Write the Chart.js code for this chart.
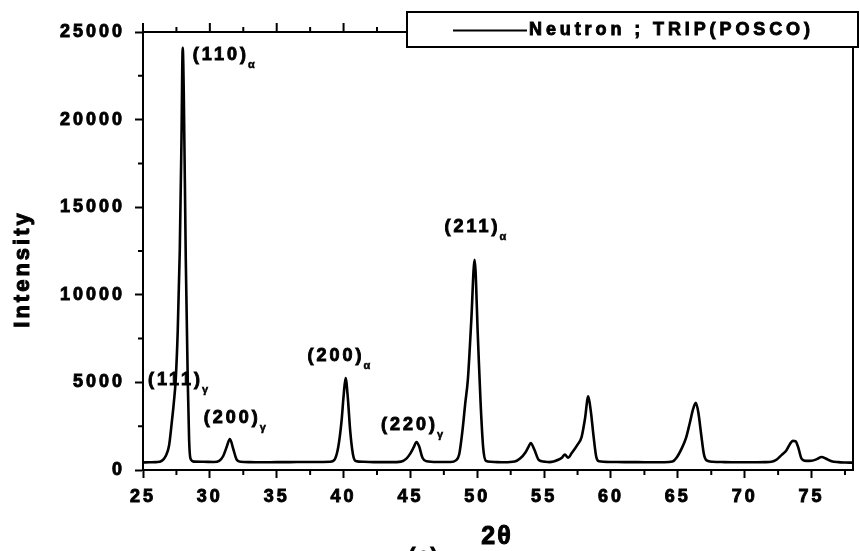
<!DOCTYPE html>
<html>
<head>
<meta charset="utf-8">
<script src="https://cdn.jsdelivr.net/npm/chart.js@4.4.1/dist/chart.umd.min.js"></script>
<style>
  html, body { margin: 0; padding: 0; background: #fff; }
</style>
</head>
<body>
<canvas id="xrd" width="860" height="551"></canvas>
<script>
// neutron diffraction pattern, TRIP steel
const twoTheta = [
  25.0, 25.5, 26.0, 26.4, 26.7, 26.95, 27.15, 27.3, 27.45, 27.6, 27.75, 27.88, 27.97, 28.05,
  28.2, 28.35, 28.45, 28.55, 28.8, 29.5, 30.3, 30.7, 31.0, 31.25, 31.5, 31.75, 32.0, 32.3,
  33.0, 34.0, 35.0, 36.0, 37.0, 38.0, 39.0, 39.3, 39.6, 39.85, 40.0, 40.15, 40.3, 40.5,
  40.7, 40.9, 41.5, 42.5, 43.5, 44.3, 44.7, 45.0, 45.25, 45.45, 45.65, 45.9, 46.2, 47.0,
  48.0, 48.4, 48.65, 48.9, 49.1, 49.3, 49.55, 49.8, 50.05, 50.25, 50.45, 50.65, 51.0, 51.5,
  52.0, 52.8, 53.2, 53.6, 53.85, 54.0, 54.25, 54.6, 55.0, 55.4, 56.1, 56.35, 56.55, 56.8,
  57.05, 57.5, 57.8, 58.05, 58.3, 58.5, 58.7, 58.9, 59.1, 60.0, 61.0, 62.0, 63.0, 64.0,
  64.6, 64.9, 65.3, 65.6, 65.9, 66.15, 66.35, 66.55, 66.75, 66.95, 67.15, 67.6, 68.5, 69.5,
  70.5, 71.5, 72.0, 72.4, 72.75, 73.1, 73.4, 73.6, 73.8, 74.0, 74.25, 74.6, 75.0, 75.4,
  75.75, 76.1, 76.5, 77.0, 77.5, 78.05
];
const intensity = [
  430, 440, 450, 520, 800, 1400, 2700, 3800, 5200, 8000, 12500, 19000, 24100, 21500,
  12000, 5000, 1700, 650, 480, 470, 460, 520, 800, 1300, 1770, 1200, 600, 470,
  450, 440, 450, 450, 460, 460, 470, 560, 1300, 2800, 4200, 5250, 4300, 2200,
  900, 520, 470, 450, 450, 480, 650, 950, 1300, 1600, 1350, 700, 500, 460,
  460, 550, 900, 2300, 3800, 5200, 8500, 12000, 7500, 3800, 1200, 520, 470, 450,
  440, 480, 650, 1000, 1350, 1540, 1200, 570, 480, 450, 600, 720, 880, 700,
  950, 1450, 1880, 2900, 4200, 3300, 1900, 740, 500, 460, 450, 450, 440, 440,
  480, 700, 1250, 1800, 2700, 3500, 3830, 3200, 2000, 900, 550, 470, 450, 440,
  440, 450, 470, 600, 850, 1100, 1500, 1660, 1640, 1300, 650, 520, 530, 620,
  740, 640, 500, 450, 430, 420
];

const xTicks = [25, 30, 35, 40, 45, 50, 55, 60, 65, 70, 75];
const xMinorTicks = [27.5, 32.5, 37.5, 42.5, 47.5, 52.5, 57.5, 62.5, 67.5, 72.5, 77.5];
const yTicks = [0, 5000, 10000, 15000, 20000, 25000];
const yMinorTicks = [2500, 7500, 12500, 17500, 22500];

// reflection labels, anchored (left, middle) in data units
const peakLabels = [
  { text: '(110)', sub: 'α', x: 28.73, y: 23700 },
  { text: '(111)', sub: 'γ', x: 25.37, y: 5140 },
  { text: '(200)', sub: 'γ', x: 29.55, y: 2970 },
  { text: '(200)', sub: 'α', x: 37.3, y: 6510 },
  { text: '(220)', sub: 'γ', x: 42.8, y: 2570 },
  { text: '(211)', sub: 'α', x: 47.55, y: 13870 }
];

const FONT = "'Liberation Sans', Arial, sans-serif";

// filled + outlined text, a bit heavier than plain bold
function heavyText(ctx, text, x, y, stroke) {
  ctx.fillText(text, x, y);
  ctx.lineWidth = stroke;
  ctx.strokeText(text, x, y);
}

const framePlugin = {
  id: 'frame',
  beforeDraw(chart) {
    chart.ctx.letterSpacing = '3px';
  },
  afterDraw(chart) {
    const { ctx, chartArea: a, scales: { x, y } } = chart;
    ctx.save();
    ctx.strokeStyle = '#000';
    ctx.fillStyle = '#000';
    ctx.lineWidth = 2;

    // top and right axis lines
    ctx.beginPath();
    ctx.moveTo(a.left, a.top);
    ctx.lineTo(a.right, a.top);
    ctx.lineTo(a.right, a.bottom);
    ctx.stroke();

    // tick marks the scales don't draw themselves
    ctx.beginPath();
    xTicks.forEach(v => {
      const px = x.getPixelForValue(v);
      ctx.moveTo(px, a.top); ctx.lineTo(px, a.top - 9);
    });
    xMinorTicks.forEach(v => {
      const px = x.getPixelForValue(v);
      if (px > a.right) return;
      ctx.moveTo(px, a.top); ctx.lineTo(px, a.top - 5);
      ctx.moveTo(px, a.bottom); ctx.lineTo(px, a.bottom + 5);
    });
    yMinorTicks.forEach(v => {
      const py = y.getPixelForValue(v);
      ctx.moveTo(a.left, py); ctx.lineTo(a.left - 5, py);
    });
    ctx.stroke();

    // reflection labels
    ctx.textAlign = 'left';
    ctx.textBaseline = 'middle';
    peakLabels.forEach(l => {
      const px = x.getPixelForValue(l.x);
      const py = y.getPixelForValue(l.y);
      ctx.font = 'bold 18px ' + FONT;
      ctx.letterSpacing = '3px';
      heavyText(ctx, l.text, px, py, 0.9);
      const w = ctx.measureText(l.text).width;
      ctx.font = 'bold 11px ' + FONT;
      ctx.letterSpacing = '0px';
      heavyText(ctx, l.sub, px + w - 1, py + 10, 0.5);
    });

    // legend box over the top right corner
    const lx = 407, ly = 12, lw = 451, lh = 35;
    ctx.fillStyle = '#fff';
    ctx.lineWidth = 2;
    ctx.fillRect(lx, ly, lw, lh);
    ctx.strokeRect(lx, ly, lw, lh);
    ctx.beginPath();
    ctx.moveTo(453, ly + lh / 2 + 1);
    ctx.lineTo(527, ly + lh / 2 + 1);
    ctx.stroke();
    ctx.fillStyle = '#000';
    ctx.font = 'bold 18px ' + FONT;
    ctx.letterSpacing = '3.9px';
    heavyText(ctx, chart.data.datasets[0].label, 529, ly + lh / 2 + 1, 0.9);

    // axis titles
    ctx.textAlign = 'center';
    ctx.font = 'bold 25px ' + FONT;
    ctx.letterSpacing = '2px';
    heavyText(ctx, '2θ', (a.left + a.right) / 2 - 1, 537, 1);

    ctx.save();
    ctx.translate(23, 271);
    ctx.rotate(-Math.PI / 2);
    ctx.font = 'bold 22px ' + FONT;
    ctx.letterSpacing = '3px';
    heavyText(ctx, 'Intensity', 2, 0, 1);
    ctx.restore();

    // panel letter, cut by the bottom edge
    ctx.textBaseline = 'top';
    ctx.font = 'bold 20px ' + FONT;
    ctx.letterSpacing = '2px';
    heavyText(ctx, '(c)', 424, 546, 1);

    ctx.restore();
  }
};

const tickFont = { family: FONT, size: 18, weight: 'bold' };

new Chart(document.getElementById('xrd'), {
  type: 'line',
  data: {
    datasets: [{
      label: 'Neutron ; TRIP(POSCO)',
      data: twoTheta.map((t, i) => ({ x: t, y: intensity[i] })),
      borderColor: '#000',
      borderWidth: 2.6,
      pointRadius: 0,
      fill: false,
      cubicInterpolationMode: 'monotone'
    }]
  },
  options: {
    responsive: false,
    animation: false,
    devicePixelRatio: 1,
    layout: { padding: { left: 0, top: 32, right: 7, bottom: 0 } },
    plugins: {
      legend: { display: false },
      tooltip: { enabled: false }
    },
    scales: {
      x: {
        type: 'linear',
        min: 25,
        max: 78.1,
        afterBuildTicks: scale => { scale.ticks = xTicks.map(v => ({ value: v })); },
        afterFit: scale => { scale.height = 81; },
        border: { color: '#000', width: 2 },
        grid: { drawOnChartArea: false, drawTicks: true, tickLength: 8, tickWidth: 2, tickColor: '#000' },
        ticks: {
          color: '#000',
          textStrokeColor: '#000',
          textStrokeWidth: 0.9,
          padding: 8,
          maxRotation: 0,
          font: tickFont,
          callback: v => String(v)
        }
      },
      y: {
        min: 0,
        max: 25000,
        afterBuildTicks: scale => { scale.ticks = yTicks.map(v => ({ value: v })); },
        afterFit: scale => { scale.width = 143; },
        border: { color: '#000', width: 2 },
        grid: { drawOnChartArea: false, drawTicks: true, tickLength: 8, tickWidth: 2, tickColor: '#000' },
        ticks: {
          color: '#000',
          textStrokeColor: '#000',
          textStrokeWidth: 0.9,
          padding: 10,
          font: tickFont,
          callback: v => String(v)
        }
      }
    }
  },
  plugins: [framePlugin]
});
</script>
</body>
</html>
